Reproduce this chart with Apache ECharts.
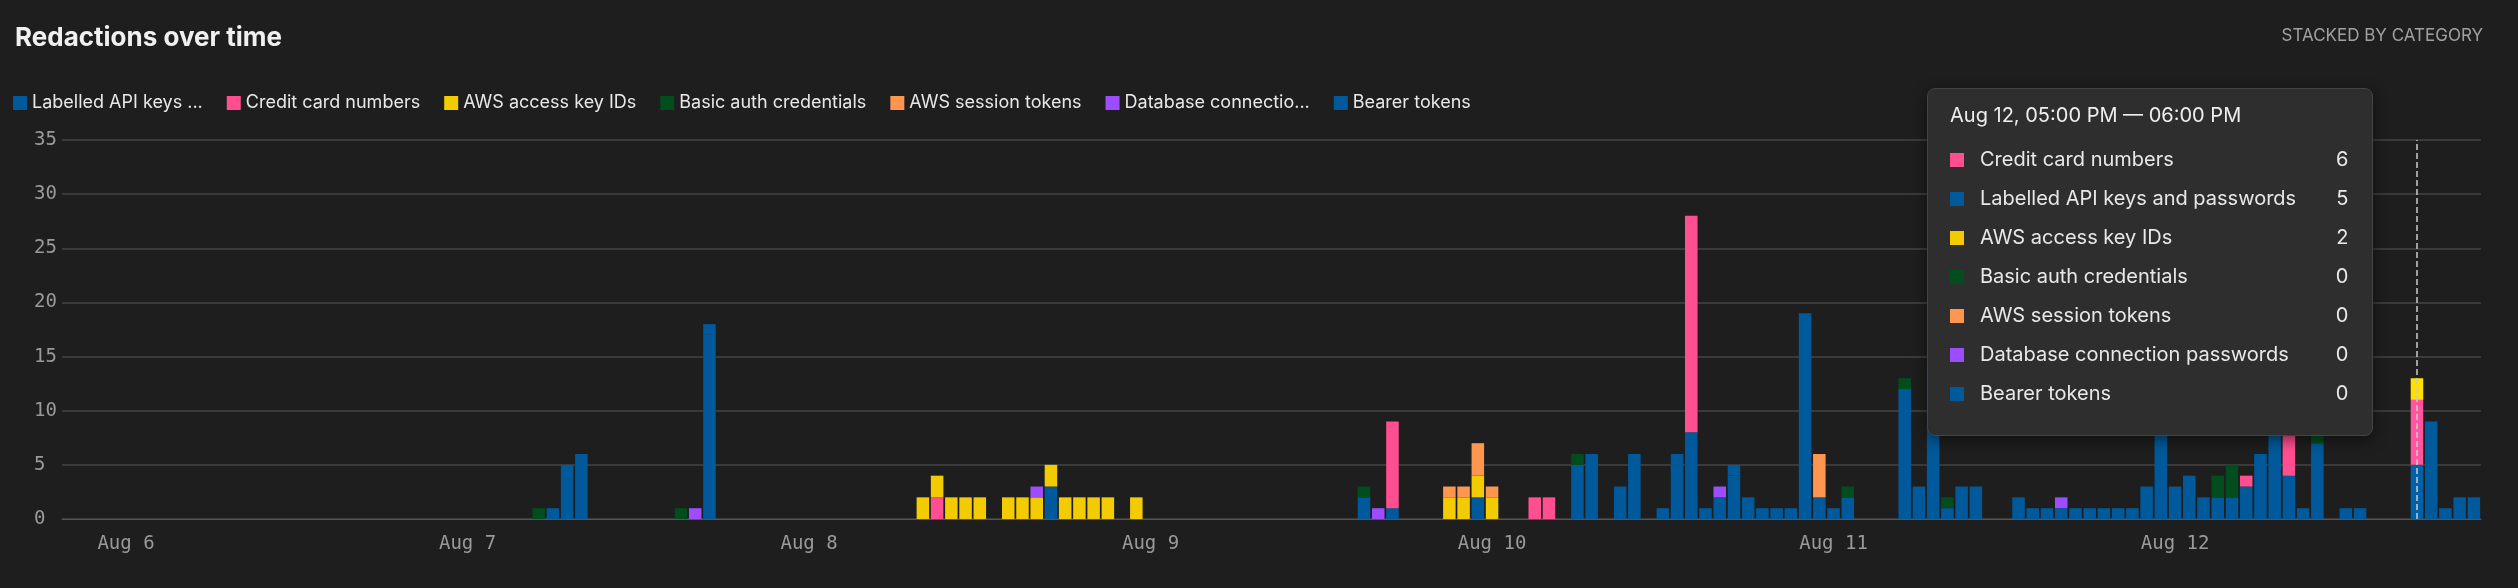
<!DOCTYPE html>
<html><head><meta charset="utf-8">
<script src="https://cdn.jsdelivr.net/npm/echarts@6/dist/echarts.min.js"></script>
<style>html,body{margin:0;background:#1e1e1e;}#c{width:2518px;height:588px;}</style>
</head><body><div id="c"></div>
<script>
// hour index h counts hours from Aug 6 00:00; bars cover h = -4 .. 165
const firstHour = -4, lastHour = 165;
const seriesNames = ["Labelled API keys and passwords","Credit card numbers","AWS access key IDs","Basic auth credentials","AWS session tokens","Database connection passwords","Bearer tokens"];
const seriesColors = ["#00599a","#ff4f91","#f2cb00","#024d1e","#ff9650","#9b4dff","#00599a"];
// [hourIndex, count]
const labelledApi = [[30,1],[31,5],[32,6],[41,17],[65,3],[87,2],[89,1],[95,2],[102,5],[103,6],[105,3],[106,6],[108,1],[109,5],[110,8],[111,1],[112,2],[113,4],[114,2],[115,1],[116,1],[117,1],[118,19],[119,2],[120,1],[121,2],[125,12],[126,3],[127,14],[128,1],[129,3],[130,3],[133,2],[134,1],[135,1],[136,1],[137,1],[138,1],[139,1],[140,1],[141,1],[142,3],[143,14],[144,3],[145,4],[146,2],[147,2],[148,2],[149,3],[150,6],[151,10],[152,4],[153,1],[154,7],[156,1],[157,1],[161,5],[162,9],[163,1],[164,2],[165,2]];
const creditCard = [[57,2],[89,8],[99,2],[100,2],[110,20],[149,1],[152,6],[161,6]];
const awsAccess = [[56,2],[57,2],[58,2],[59,2],[60,2],[62,2],[63,2],[64,2],[65,2],[66,2],[67,2],[68,2],[69,2],[71,2],[93,2],[94,2],[95,2],[96,2],[161,2]];
const basicAuth = [[29,1],[39,1],[87,1],[102,1],[121,1],[125,1],[128,1],[147,2],[148,3],[154,1]];
const awsSession = [[93,1],[94,1],[95,3],[96,1],[119,4]];
const dbConn = [[40,1],[64,1],[88,1],[112,1],[136,1]];
const bearer = [[41,1],[109,1],[113,1]];
const yTicks = [0,5,10,15,20,25,30,35];
const tooltipHour = 161;

const raw = [labelledApi,creditCard,awsAccess,basicAuth,awsSession,dbConn,bearer];
const hours = []; for (let h=firstHour; h<=lastHour; h++) hours.push(h);
const months=["Jan","Feb","Mar","Apr","May","Jun","Jul","Aug","Sep","Oct","Nov","Dec"];
function dt(h){ return new Date(Date.UTC(2024,7,6,0)+h*3600000); }
function fmtT(d){ let H=d.getUTCHours(); const ap=H>=12?"PM":"AM"; H=H%12; if(H===0)H=12; return String(H).padStart(2,"0")+":00 "+ap; }
const cats = hours.map(h=>String(h));
const series = raw.map((arr,i)=>{
  const m = new Map(arr); 
  return {name:seriesNames[i],type:'bar',stack:'all',barCategoryGap:'12%',
    itemStyle:{color:seriesColors[i]},data:hours.map(h=>m.get(h)||0)};
});
const chart = echarts.init(document.getElementById('c'));
chart.setOption({
  backgroundColor:'#1e1e1e',
  animation:false,
  title:[{text:'Redactions over time',left:10,top:20,textStyle:{color:'#f0f0f0',fontSize:26,fontWeight:'bold',fontFamily:'Inter'}},
         {text:'STACKED BY CATEGORY',right:30,top:22,textStyle:{color:'#a0a0a0',fontSize:17,fontWeight:'normal',fontFamily:'Inter'}}],
  legend:{left:8,top:89,itemWidth:14,itemHeight:14,itemGap:24,icon:'rect',
    textStyle:{color:'#e8e8e8',fontSize:18,fontFamily:'Inter'},
    formatter:n=>n.length>22?n.slice(0,18)+'...':n,
    data:seriesNames.map((n,i)=>({name:n,itemStyle:{color:seriesColors[i]}}))},
  grid:{left:62,right:37,top:140,bottom:69,containLabel:false},
  tooltip:{trigger:'axis',alwaysShowContent:true,triggerOn:'none',position:[1927,88],
    backgroundColor:'#2e2e2e',borderColor:'#444',borderWidth:1,padding:[16,24,22,22],
    extraCssText:'border-radius:8px;box-shadow:0 4px 14px rgba(0,0,0,0.5);',
    axisPointer:{type:'line',lineStyle:{color:'#cccccc',type:'dashed',width:1.5}},
    formatter:ps=>{
      const h=Number(ps[0].name), d0=dt(h), d1=dt(h+1);
      let s='<div style="font-family:Inter;color:#eee;font-size:20px;margin-bottom:14px">'+months[d0.getUTCMonth()]+' '+d0.getUTCDate()+', '+fmtT(d0)+' — '+fmtT(d1)+'</div>';
      const rows=ps.map(p=>({n:p.seriesName,v:p.value,c:seriesColors[p.seriesIndex],i:p.seriesIndex}));
      rows.sort((a,b)=>b.v-a.v||a.i-b.i);
      rows.forEach(r=>{s+='<div style="display:flex;align-items:center;font-family:Inter;font-size:20px;color:#e8e8e8;height:39px"><span style="display:inline-block;width:14px;height:14px;background:'+r.c+';margin-right:16px"></span><span style="flex:1;margin-right:40px">'+r.n+'</span><span>'+r.v+'</span></div>';});
      return s;
    }},
  xAxis:{type:'category',data:cats,
    axisLine:{lineStyle:{color:'#555'}},axisTick:{show:false},
    axisLabel:{color:'#9a9a9a',fontSize:19,fontFamily:'DejaVu Sans Mono',margin:16,
      interval:(i,v)=>Number(v)%24===0,
      formatter:v=>{const d=dt(Number(v));return months[d.getUTCMonth()]+' '+d.getUTCDate();}}},
  yAxis:{type:'value',min:yTicks[0],max:yTicks[yTicks.length-1],interval:5,
    axisLabel:{color:'#9a9a9a',fontSize:19,fontFamily:'DejaVu Sans Mono',margin:28,align:'left',
      formatter:v=>yTicks.includes(v)?String(v):''},
    splitLine:{lineStyle:{color:'#444',width:1.5}}},
  series
});
chart.dispatchAction({type:'showTip',seriesIndex:0,dataIndex:tooltipHour-firstHour});
</script></body></html>
